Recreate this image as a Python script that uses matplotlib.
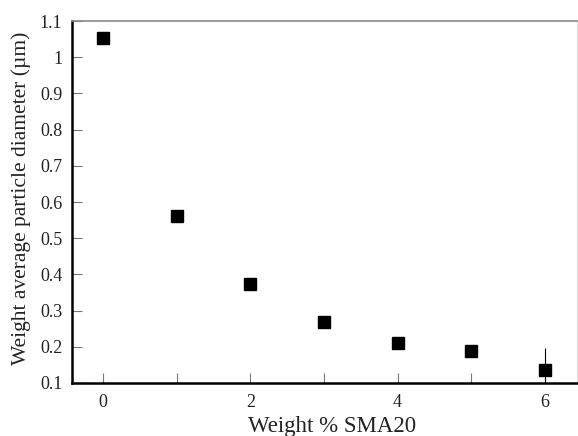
import matplotlib.pyplot as plt
import numpy as np

# SMA20 content (wt %) vs weight average particle diameter (um)
sma20_wt = [0, 1, 2, 3, 4, 5, 6]
diameter_um = [1.052, 0.561, 0.373, 0.268, 0.210, 0.188, 0.136]
diameter_err = [0, 0, 0, 0, 0, 0, 0.06]

plt.rcParams['font.family'] = ['Liberation Serif', 'DejaVu Serif']

fig = plt.figure(figsize=(5.78, 4.36), dpi=100)
ax = fig.add_axes([0.1246, 0.1216, 0.873, 0.830])

ax.errorbar(sma20_wt, diameter_um, yerr=diameter_err, fmt='s', color='black',
            ms=8.5, elinewidth=0.8, capsize=0, clip_on=True, zorder=3)

ax.set_xlim(-0.42, 6.43)
ax.set_ylim(0.1, 1.1)
ax.set_xticks([0, 2, 4, 6])
ax.set_xticks([1, 3, 5], minor=True)
ax.set_yticks(np.arange(0.1, 1.15, 0.1))
ax.set_yticklabels(['0.1', '0.2', '0.3', '0.4', '0.5', '0.6', '0.7', '0.8',
                    '0.9', '1', '1.1'])

ax.tick_params(axis='both', which='both', direction='in', color='#777777',
               width=0.8, labelsize=13, labelcolor='#222222')
ax.tick_params(axis='y', which='major', length=7, pad=7)
ax.tick_params(axis='x', which='major', length=7, pad=8)
ax.tick_params(axis='x', which='minor', length=7)

ax.spines['left'].set_linewidth(1.8)
ax.spines['bottom'].set_linewidth(1.8)
ax.spines['top'].set_color('#888888')
ax.spines['top'].set_linewidth(1.2)
ax.spines['right'].set_color('#dddddd')
ax.spines['right'].set_linewidth(0.8)

ax.set_xlabel('Weight % SMA20', fontsize=16.5, color='#222222')
ax.xaxis.set_label_coords(0.515, -0.09)
ax.set_ylabel('Weight average particle diameter (µm)', fontsize=15.5,
              color='#222222')
ax.yaxis.set_label_coords(-0.082, 0.51)

fig.savefig('out.png', dpi=100)
